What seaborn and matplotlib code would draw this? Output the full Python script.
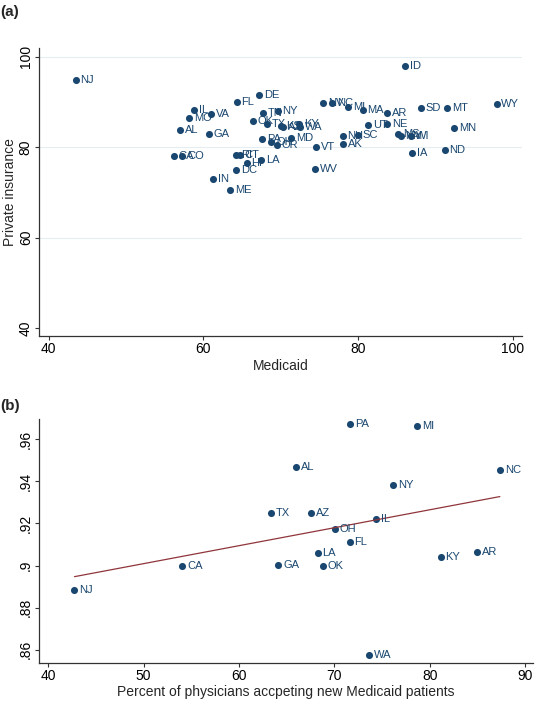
import numpy as np
import pandas as pd
import matplotlib
matplotlib.use("Agg")
import matplotlib.pyplot as plt
import seaborn as sns

# panel (a): acceptance of new patients by state
states_a = ["NJ", "ID", "WY", "SD", "MT", "MA", "AR", "NV", "NC", "MI",
            "UT", "NE", "MN", "NH", "SC", "AK", "VT", "WV", "MS", "NM",
            "WI", "IA", "ND", "FL", "DE", "IL", "VA", "MO", "AL", "GA",
            "TN", "NY", "OK", "TX", "KS", "AZ", "KY", "WA", "PA", "OH",
            "OR", "MD", "RI", "CT", "CA", "CO", "HI", "LA", "DC", "IN", "ME"]
medicaid_a = [43.5, 86.1, 97.9, 88.1, 91.5, 80.6, 83.8, 75.5, 76.7, 78.7,
              81.3, 83.8, 92.4, 78.0, 80.0, 78.1, 74.6, 74.5, 85.2, 85.5,
              86.8, 87.0, 91.2, 64.3, 67.2, 58.8, 61.0, 58.2, 57.0, 60.7,
              67.7, 69.6, 66.4, 68.2, 70.1, 70.3, 72.4, 72.5, 67.6, 68.8,
              69.5, 71.4, 64.2, 64.7, 56.2, 57.3, 65.6, 67.5, 64.2, 61.3, 63.5]
private_a = [94.9, 98.0, 89.6, 88.7, 88.6, 88.1, 87.5, 89.7, 89.7, 88.8,
             84.8, 85.0, 84.2, 82.5, 82.6, 80.7, 80.0, 75.1, 83.0, 82.4,
             82.4, 78.8, 79.4, 90.0, 91.4, 88.2, 87.4, 86.5, 83.8, 83.0,
             87.5, 88.0, 85.7, 85.0, 84.7, 84.4, 85.1, 84.4, 81.8, 81.1,
             80.5, 82.1, 78.3, 78.3, 78.0, 78.0, 76.4, 77.2, 74.9, 73.0, 70.5]

# panel (b)
states_b = ["NJ", "CA", "TX", "GA", "AL", "AZ", "LA", "OK", "OH", "PA",
            "FL", "WA", "IL", "NY", "MI", "KY", "AR", "NC"]
accept_b = [42.76, 54.04, 63.35, 64.14, 65.97, 67.54, 68.26, 68.76, 70.05, 71.63,
            71.59, 73.63, 74.38, 76.17, 78.68, 81.15, 84.99, 87.35]
share_b = [.8886, .8996, .9249, .9003, .9466, .9251, .9058, .8999, .9173, .967,
           .9113, .8578, .9222, .938, .966, .9041, .9064, .9455]

navy = "#1a476f"
maroon = "#90353b"

sns.set_style("white")
plt.rcParams['font.family'] = ['Liberation Sans', 'DejaVu Sans']

dfa = pd.DataFrame({'state': states_a, 'medicaid': medicaid_a, 'private': private_a})
dfb = pd.DataFrame({'state': states_b, 'accept': accept_b, 'share': share_b})

fig = plt.figure(figsize=(5.36, 7.01), dpi=100)
ax1 = fig.add_axes([0.0728, 0.5207, 0.9012, 0.4103])
ax2 = fig.add_axes([0.0733, 0.0540, 0.9207, 0.348])


def style_axis(ax):
    for side in ['top', 'right']:
        ax.spines[side].set_visible(False)
    for side in ['left', 'bottom']:
        ax.spines[side].set_color('#333333')
        ax.spines[side].set_linewidth(0.9)
    ax.tick_params(axis='both', direction='out', length=3, width=0.8, pad=1.5,
                   color='#333333', labelsize=10, labelcolor='black', left=True, bottom=True)
    ax.tick_params(axis='y', labelrotation=90)
    for lab in ax.get_yticklabels():
        lab.set_va('center')


# (a)
for v in [60, 80, 100]:
    ax1.axhline(v, color='#e6edf1', lw=0.8, zorder=0)
sns.scatterplot(data=dfa, x='medicaid', y='private', ax=ax1, color=navy,
                s=26, linewidth=0, zorder=3)
for st, x, y in zip(states_a, medicaid_a, private_a):
    ax1.annotate(st, (x, y), xytext=(3.5, 0), textcoords='offset points',
                 va='center', ha='left', fontsize=8, color=navy, zorder=4)
ax1.set_xlim(38.77, 101.2)
ax1.set_ylim(38.3, 101.8)
ax1.set_xticks([40, 60, 80, 100])
ax1.set_yticks([40, 60, 80, 100])
ax1.set_xlabel("Medicaid", fontsize=10, labelpad=2)
ax1.set_ylabel("Private insurance", fontsize=10, labelpad=1)
style_axis(ax1)

# (b)
sns.scatterplot(data=dfb, x='accept', y='share', ax=ax2, color=navy,
                s=26, linewidth=0, zorder=3)
sns.regplot(data=dfb, x='accept', y='share', ax=ax2, scatter=False, ci=None,
            truncate=True, line_kws=dict(color=maroon, lw=0.9, zorder=4))
for st, x, y in zip(states_b, accept_b, share_b):
    ax2.annotate(st, (x, y), xytext=(3.5, 0), textcoords='offset points',
                 va='center', ha='left', fontsize=8, color=navy, zorder=4)
ax2.set_xlim(39.07, 90.8)
ax2.set_ylim(0.8537, 0.9694)
ax2.set_xticks([40, 50, 60, 70, 80, 90])
ax2.set_yticks([.86, .88, .9, .92, .94, .96])
ax2.set_yticklabels([".86", ".88", ".9", ".92", ".94", ".96"])
ax2.set_xlabel("Percent of physicians accpeting new Medicaid patients", fontsize=10, labelpad=1)
ax2.set_ylabel("")
style_axis(ax2)

fig.text(0.0, 1 - 12 / 701, "(a)", fontsize=11, fontweight='bold', va='center', ha='left')
fig.text(0.0, 1 - 406 / 701, "(b)", fontsize=11, fontweight='bold', va='center', ha='left')

fig.savefig("out.png", dpi=100, facecolor='white')
